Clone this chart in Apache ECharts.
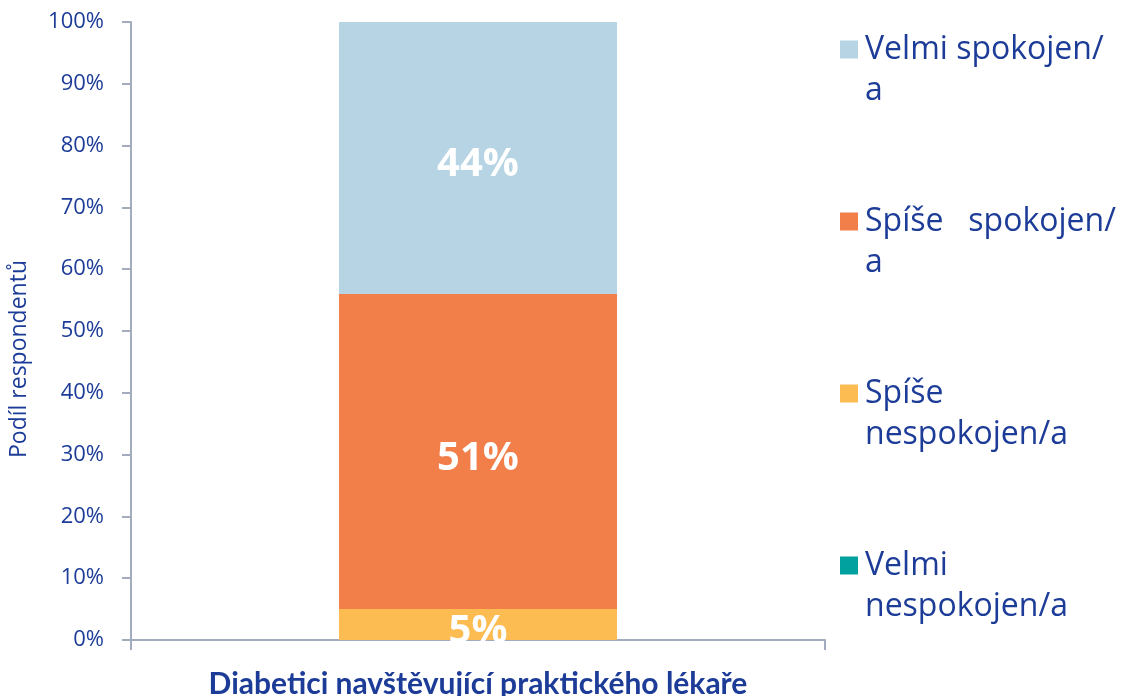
<!DOCTYPE html>
<html>
<head>
<meta charset="utf-8">
<title>Spokojenost</title>
<script src="https://cdn.jsdelivr.net/npm/echarts@6/dist/echarts.min.js"></script>
<style>
  html, body { margin: 0; padding: 0; background: #fff; }
  #main { width: 1122px; height: 696px; }
</style>
</head>
<body>
<div id="main"></div>
<script>
// data
var categories = ['Diabetici navštěvující praktického lékaře']
var seriesNames = ['Velmi nespokojen/a', 'Spíše nespokojen/a', 'Spíše spokojen/a', 'Velmi spokojen/a']
var legendNames = ['Velmi spokojen/\na', 'Spíše   spokojen/\na', 'Spíše\nnespokojen/a', 'Velmi\nnespokojen/a']
var values = [[0], [5], [51], [44]]
var colors = ['#00a19f', '#fdbc52', '#f27f4a', '#b6d4e3']
var yTicks = [0, 10, 20, 30, 40, 50, 60, 70, 80, 90, 100]

var blue = '#1c3c98'
var axisGrey = '#a3abbf'

var chart = echarts.init(document.getElementById('main'))

var series = []
for (var i = 0; i < seriesNames.length; i++) {
    series.push({
        name: seriesNames[i],
        type: 'bar',
        stack: 'total',
        barWidth: 278,
        data: values[i],
        itemStyle: { color: colors[i] },
        label: {
            show: true,
            position: 'inside',
            offset: [0, 7],
            color: '#fff',
            fontFamily: 'Open Sans',
            fontWeight: 'bold',
            fontSize: 40,
            formatter: function(p) {
                return p.value > 0 ? p.value + '%' : ''
            }
        }
    })
}

// legend: names shown top to bottom, empty first line keeps icon on first text line
var legendData = []
for (var j = 0; j < 4; j++) {
    legendData.push({
        name: seriesNames[3 - j],
        icon: 'rect'
    })
}
var legendLabel = {}
for (var k = 0; k < 4; k++) {
    legendLabel[seriesNames[3 - k]] = legendNames[k]
}

var option = {
    animation: false,
    grid: { left: 131, right: 297, top: 22, bottom: 56, containLabel: false, outerBoundsMode: 'none' },
    legend: {
        orient: 'vertical',
        left: 835,
        top: -17,
        itemWidth: 18,
        itemHeight: 18,
        itemGap: 49,
        data: legendData,
        selectedMode: false,
        formatter: function(name) {
            return '\n' + legendLabel[name]
        },
        textStyle: {
            color: blue,
            fontFamily: 'Open Sans',
            fontSize: 32,
            lineHeight: 41,
            padding: [0, 0, 0, 2]
        }
    },
    xAxis: {
        type: 'category',
        data: categories,
        boundaryGap: true,
        axisLine: { lineStyle: { color: axisGrey, width: 2 } },
        axisTick: { show: true, length: 10, lineStyle: { color: axisGrey, width: 2 } },
        axisLabel: {
            margin: 29,
            color: blue,
            fontFamily: 'Lato',
            fontWeight: 'bold',
            fontSize: 30
        }
    },
    yAxis: {
        type: 'value',
        min: 0,
        max: 100,
        interval: 10,
        name: 'Podíl respondentů',
        nameLocation: 'middle',
        nameRotate: 90,
        nameGap: 100,
        nameTextStyle: { color: blue, fontFamily: 'Open Sans', fontSize: 23, padding: [0, 56, 0, 0] },
        splitLine: { show: false },
        axisLine: { show: true, lineStyle: { color: axisGrey, width: 2 } },
        axisTick: { show: true, length: 9, lineStyle: { color: axisGrey, width: 2 } },
        axisLabel: {
            margin: 27,
            color: blue,
            fontFamily: 'Open Sans',
            fontSize: 22,
            customValues: yTicks,
            formatter: '{value}%'
        }
    },
    series: series
}

chart.setOption(option)
</script>
</body>
</html>
